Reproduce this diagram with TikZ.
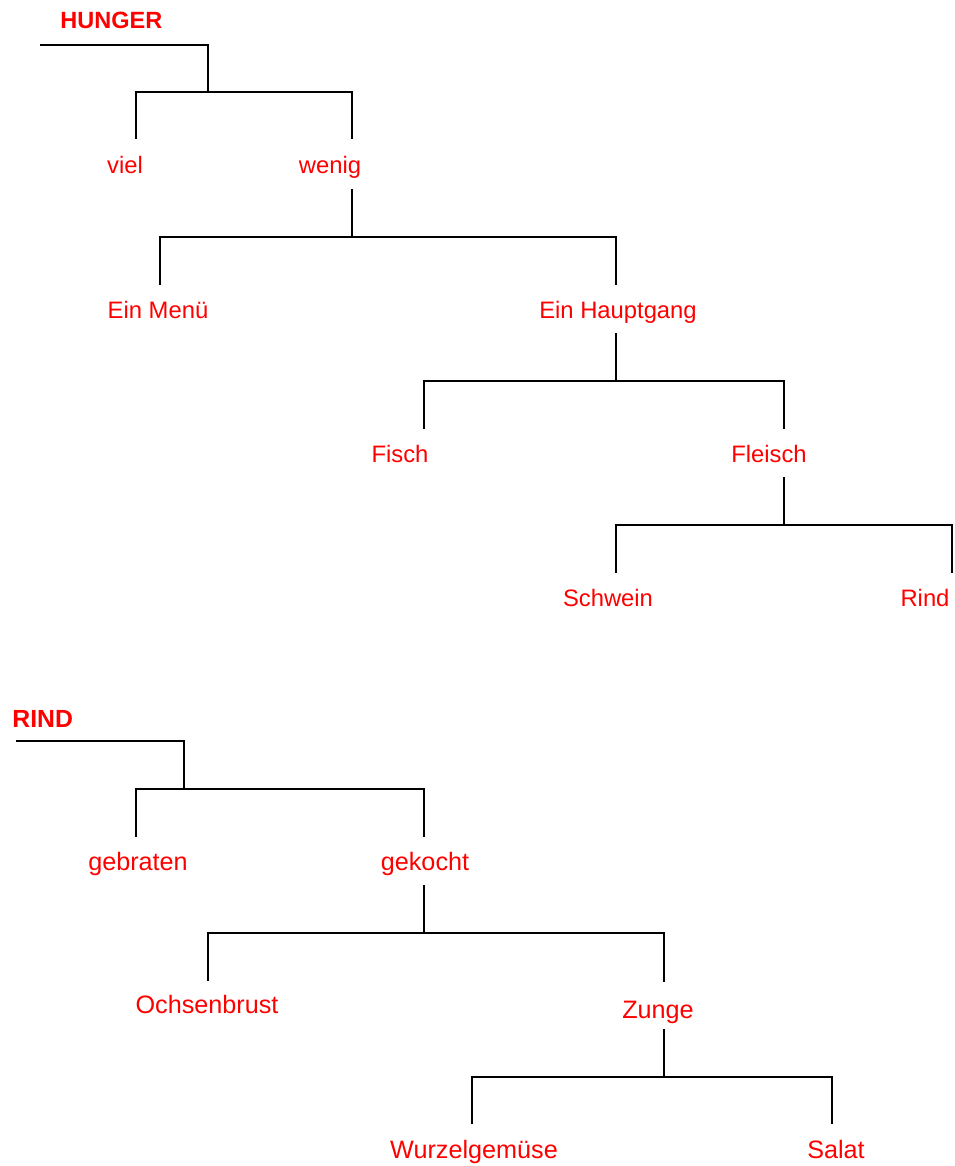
\documentclass[tikz,border=0pt]{standalone}
\usepackage{fontspec}
\setmainfont{Liberation Sans}
\usepackage{tikz}

\tikzset{
  ast/.style={draw=black, line width=1pt},
  lbl/.style={text=red, anchor=base, inner sep=0pt, font=\fontsize{11.9}{14}\selectfont},
  lblgross/.style={lbl, font=\fontsize{12.6}{15}\selectfont},
  titel/.style={lbl, anchor=base west, font=\fontsize{11.75}{14}\selectfont\bfseries},
  titelgross/.style={titel, font=\fontsize{12.4}{15}\selectfont\bfseries}
}

\begin{document}
\begin{tikzpicture}[x=0.5pt, y=-0.5pt] % 1 Einheit = 1 Pixel der Vorlage
  \useasboundingbox (0,0) rectangle (954,1166);
  % Baum HUNGER
  \node[titel] (hunger) at (60,29) {HUNGER};
  \node[lbl] (viel) at (125,174) {viel};
  \node[lbl] (wenig) at (330,174) {wenig};
  \node[lbl] (menue) at (158,318) {Ein Menü};
  \node[lbl] (haupt) at (618,318) {Ein Hauptgang};
  \node[lbl] (fisch) at (400,462) {Fisch};
  \node[lbl] (fleisch) at (769,462) {Fleisch};
  \node[lbl] (schwein) at (608,606) {Schwein};
  \node[lbl] (rindb) at (925,606) {Rind};
  \coordinate (h0) at (40,45);
  \coordinate (h1) at (208,92);
  \coordinate (viel-t) at (136,139);
  \coordinate (wenig-t) at (352,139);
  \coordinate (wenig-b) at (352,189);
  \coordinate (w1) at (352,237);
  \coordinate (menue-t) at (160,285);
  \coordinate (haupt-t) at (616,285);
  \coordinate (haupt-b) at (616,333);
  \coordinate (hg1) at (616,381);
  \coordinate (fisch-t) at (424,429);
  \coordinate (fleisch-t) at (784,429);
  \coordinate (fleisch-b) at (784,477);
  \coordinate (fl1) at (784,525);
  \coordinate (schwein-t) at (616,573);
  \coordinate (rindb-t) at (952,573);
  \draw[ast] (h0) -| (h1);
  \draw[ast] (viel-t) |- (h1) -| (wenig-t);
  \draw[ast] (wenig-b) -- (w1);
  \draw[ast] (menue-t) |- (w1) -| (haupt-t);
  \draw[ast] (haupt-b) -- (hg1);
  \draw[ast] (fisch-t) |- (hg1) -| (fleisch-t);
  \draw[ast] (fleisch-b) -- (fl1);
  \draw[ast] (schwein-t) |- (fl1) -| (rindb-t);
  % Baum RIND
  \node[titelgross] (rind) at (12,727) {RIND};
  \node[lblgross] (gebraten) at (138,870) {gebraten};
  \node[lblgross] (gekocht) at (425,870) {gekocht};
  \node[lblgross] (ochsen) at (207,1013) {Ochsenbrust};
  \node[lblgross] (zunge) at (658,1018) {Zunge};
  \node[lblgross] (wurzel) at (474,1158) {Wurzelgemüse};
  \node[lblgross] (salat) at (836,1158) {Salat};
  \coordinate (r0) at (16,741);
  \coordinate (r1) at (184,789);
  \coordinate (gebraten-t) at (136,837);
  \coordinate (gekocht-t) at (424,837);
  \coordinate (gekocht-b) at (424,885);
  \coordinate (g1) at (424,933);
  \coordinate (ochsen-t) at (208,981);
  \coordinate (zunge-t) at (664,982);
  \coordinate (zunge-b) at (664,1029);
  \coordinate (z1) at (664,1077);
  \coordinate (wurzel-t) at (472,1124);
  \coordinate (salat-t) at (832,1124);
  \draw[ast] (r0) -| (r1);
  \draw[ast] (gebraten-t) |- (r1) -| (gekocht-t);
  \draw[ast] (gekocht-b) -- (g1);
  \draw[ast] (ochsen-t) |- (g1) -| (zunge-t);
  \draw[ast] (zunge-b) -- (z1);
  \draw[ast] (wurzel-t) |- (z1) -| (salat-t);
\end{tikzpicture}
\end{document}
